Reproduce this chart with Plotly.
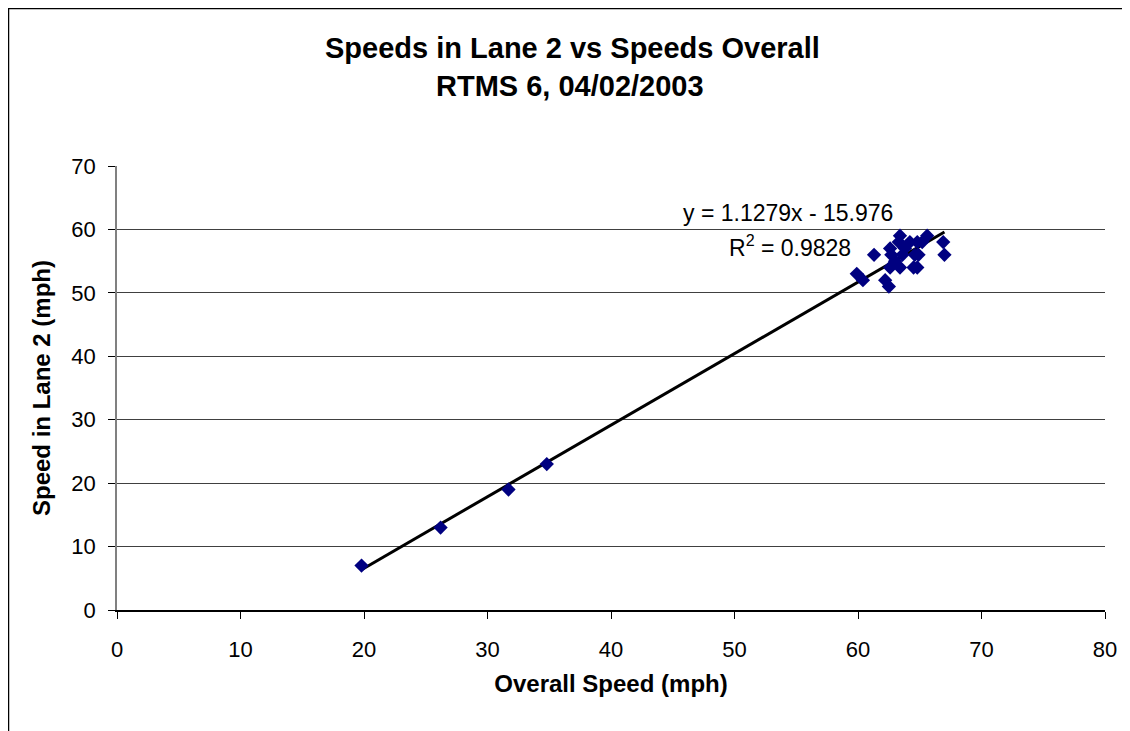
import plotly.graph_objects as go

# Overall speed (mph) vs speed in lane 2 (mph)
overall_speed = [19.8, 26.2, 31.7, 34.8,
                 59.9, 60.4, 61.3, 62.2, 62.5, 62.6, 62.7, 62.6, 63.0, 63.4,
                 63.3, 63.4, 63.6, 64.2, 64.5, 64.6, 64.8, 64.8, 64.9, 65.6,
                 66.9, 67.0, 63.8, 65.2]
lane2_speed = [7, 13, 19, 23,
               53, 52, 56, 52, 51, 57, 56, 54, 55, 59,
               58, 54, 56, 58, 54, 56, 58, 54, 56, 59,
               58, 56, 57, 58]

# trend line coefficients as printed on the chart
slope = 1.1279
intercept = -15.976
r_squared = 0.9828

title_lines = ["Speeds in Lane 2 vs Speeds Overall", "RTMS 6, 04/02/2003"]
x_ticks = [0, 10, 20, 30, 40, 50, 60, 70, 80]
y_ticks = [0, 10, 20, 30, 40, 50, 60, 70]

FONT = "Liberation Sans, Arial, sans-serif"

trend_x = [min(overall_speed), max(overall_speed)]
trend_y = [slope * v + intercept for v in trend_x]

fig = go.Figure()
fig.add_trace(go.Scatter(
    x=trend_x, y=trend_y, mode="lines",
    line=dict(color="black", width=3), hoverinfo="skip"))
fig.add_trace(go.Scatter(
    x=overall_speed, y=lane2_speed, mode="markers",
    marker=dict(symbol="diamond", size=11, color="#000080")))

# page is offset 8px by the body margin; plot area on page: 117..1105 x 166..610
OFF = 8
W, H = 1130 - OFF, 731 - OFF
L, T = 117 - OFF, 166 - OFF
R, B = W - (1105 - OFF), H - (610 - OFF)
pw, ph = W - L - R, H - T - B

def px(x):
    # page pixel -> paper x
    return (x - OFF - L) / pw

def py(y):
    # page pixel -> paper y
    return (H - B - (y - OFF)) / ph

def note(text, x, y, size):
    return dict(text=text, x=px(x), y=py(y), xref="paper", yref="paper",
                xanchor="center", yanchor="middle", showarrow=False,
                font=dict(size=size, family=FONT, color="black"))

annotations = [
    note("<b>%s</b>" % title_lines[0], 572, 48, 29),
    note("<b>%s</b>" % title_lines[1], 570, 86, 29),
    note("y = %.4fx - %.3f" % (slope, -intercept), 788, 213, 23),
    note("R<sup>2</sup> = %.4f" % r_squared, 790, 246, 23),
]

fig.update_layout(
    width=W, height=H,
    margin=dict(l=L, r=R, t=T, b=B),
    paper_bgcolor="white", plot_bgcolor="white",
    showlegend=False,
    font=dict(family=FONT, size=22, color="black"),
    annotations=annotations,
    shapes=[dict(type="rect", xref="paper", yref="paper",
                 x0=px(OFF + 0.5), x1=px(1127.5), y0=py(760), y1=py(OFF + 0.5),
                 line=dict(color="black", width=1.5), layer="below")],
)
fig.update_xaxes(
    range=[0, 80], tickvals=x_ticks, showgrid=False, zeroline=False,
    showline=True, linecolor="black", linewidth=1.5,
    ticks="outside", ticklen=7, tickcolor="black", ticklabelstandoff=12,
    tickfont=dict(size=22, family=FONT),
    title=dict(text="<b>Overall Speed (mph)</b>", font=dict(size=24, family=FONT), standoff=14))
fig.update_yaxes(
    range=[0, 70], tickvals=y_ticks, showgrid=True, gridcolor="#404040", gridwidth=1,
    zeroline=False, showline=True, linecolor="#808080", linewidth=1.5,
    ticks="outside", ticklen=7, tickcolor="black", ticklabelstandoff=8,
    tickfont=dict(size=22, family=FONT),
    title=dict(text="<b>Speed in Lane 2 (mph)</b>", font=dict(size=24, family=FONT), standoff=14))

fig.write_html("out.html")
